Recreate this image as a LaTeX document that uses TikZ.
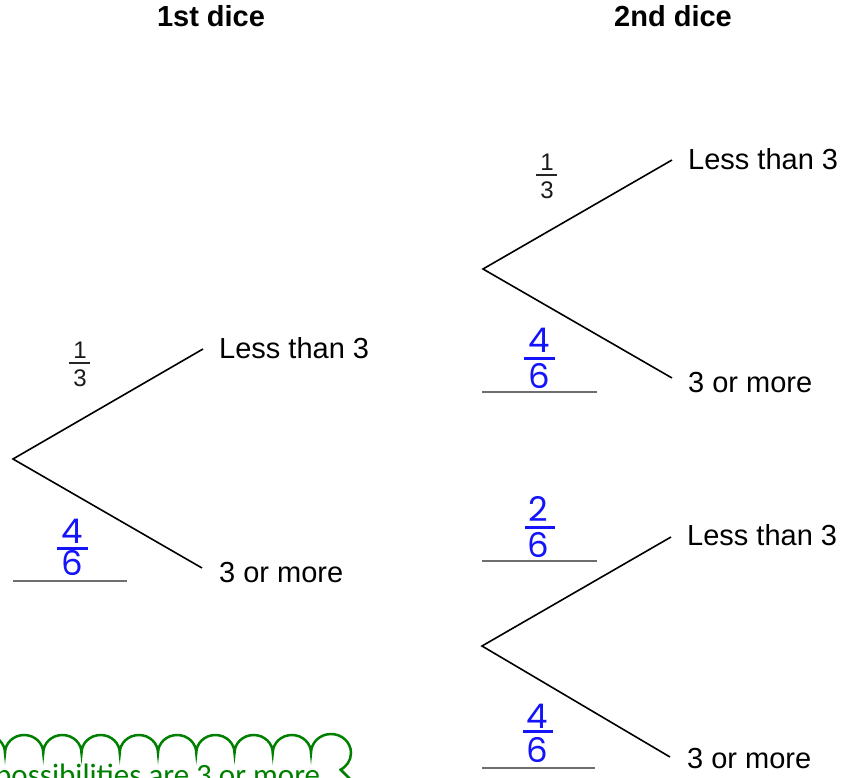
\documentclass[tikz,border=0pt]{standalone}
\usepackage{fontspec}
\setmainfont{Liberation Sans}
\newfontfamily\handfont{Poppins}
\newfontfamily\notefont{Carlito}
\definecolor{hblue}{RGB}{20,20,250}
\definecolor{ugray}{RGB}{110,110,110}
\definecolor{cgreen}{RGB}{0,128,0}
\begin{document}
\begin{tikzpicture}[x=1pt,y=-1pt,
  branch/.style={line width=1.6pt, black},
  lbl/.style={anchor=base west, inner sep=0pt, font=\fontsize{29}{34}\selectfont},
  head/.style={anchor=base, inner sep=0pt, font=\bfseries\fontsize{29}{34}\selectfont},
  gdig/.style={anchor=base, inner sep=0pt, font=\fontsize{24}{28}\selectfont, text=black!90},
  gbar/.style={line width=1.2pt, black!85},
  bdig/.style={anchor=base, inner sep=0pt, font=\handfont\fontsize{34}{38}\selectfont, text=hblue},
  bbar/.style={line width=3pt, hblue},
  uline/.style={line width=2pt, ugray},
  cloudline/.style={line width=2.5pt, cgreen}]
\useasboundingbox (0,0) rectangle (843,778);
\clip (0,0) rectangle (843,778);

% headers
\node[head] (h1) at (211,27) {1st dice};
\node[head] (h2) at (673,27) {2nd dice};

% tree 1
\coordinate (r1) at (13,459);
\coordinate (r1u) at (203,349);
\coordinate (r1d) at (202,568);
\draw[branch] (r1u) -- (r1) -- (r1d);
\node[lbl] (l1u) at (219,358) {Less than 3};
\node[lbl] (l1d) at (219,582) {3 or more};
\node[gdig] (f1n) at (80,358) {1};
\node[gdig] (f1d) at (80,386) {3};
\draw[gbar] (69,363) -- (90,363);
\node[bdig] (b1n) at (72,543) {4};
\node[bdig] (b1d) at (72,575) {6};
\draw[bbar] (57,548) -- (88,548);
\draw[uline] (13,581) -- (127,581);

% tree 2 upper
\coordinate (r2) at (483,269);
\coordinate (r2u) at (672,160);
\coordinate (r2d) at (672,378);
\draw[branch] (r2u) -- (r2) -- (r2d);
\node[lbl] (l2u) at (688,170) {Less than 3};
\node[lbl] (l2d) at (688,392) {3 or more};
\node[gdig] (f2n) at (547,171) {1};
\node[gdig] (f2d) at (547,199) {3};
\draw[gbar] (536,175) -- (557,175);
\node[bdig] (b2n) at (539,352) {4};
\node[bdig] (b2d) at (539,388) {6};
\draw[bbar] (524,358) -- (555,358);
\draw[uline] (482,392) -- (597,392);

% tree 2 lower
\coordinate (r3) at (482,646);
\coordinate (r3u) at (671,537);
\coordinate (r3d) at (670,757);
\draw[branch] (r3u) -- (r3) -- (r3d);
\node[lbl] (l3u) at (687,545) {Less than 3};
\node[lbl] (l3d) at (687,768) {3 or more};
\node[bdig] (b3n) at (538,521) {2};
\node[bdig] (b3d) at (538,557) {6};
\draw[bbar] (525,527) -- (555,527);
\draw[uline] (482,561) -- (597,561);
\node[bdig] (b4n) at (537,728) {4};
\node[bdig] (b4d) at (537,762) {6};
\draw[bbar] (523,731) -- (553,731);
\draw[uline] (482,768) -- (595,768);

% cloud callout (cut by the lower edge)
\draw[cloudline] (-33.25,753)
  arc[start angle=180,end angle=360,x radius=19.125,y radius=18]
  arc[start angle=180,end angle=360,x radius=19.125,y radius=18]
  arc[start angle=180,end angle=360,x radius=19.125,y radius=18]
  arc[start angle=180,end angle=360,x radius=19.125,y radius=18]
  arc[start angle=180,end angle=360,x radius=19.125,y radius=18]
  arc[start angle=180,end angle=360,x radius=19.125,y radius=18]
  arc[start angle=180,end angle=360,x radius=19.125,y radius=18]
  arc[start angle=180,end angle=360,x radius=19.125,y radius=18]
  arc[start angle=180,end angle=360,x radius=19.125,y radius=18]
  arc[start angle=180,end angle=425,x radius=20,y radius=19];
\draw[cloudline] (341,770) -- (352,781);
\node[anchor=base west, inner sep=0pt, text=cgreen, font=\notefont\fontsize{31}{36}\selectfont] (note) at (-5,785) {possibilities are 3 or more};
\end{tikzpicture}
\end{document}
